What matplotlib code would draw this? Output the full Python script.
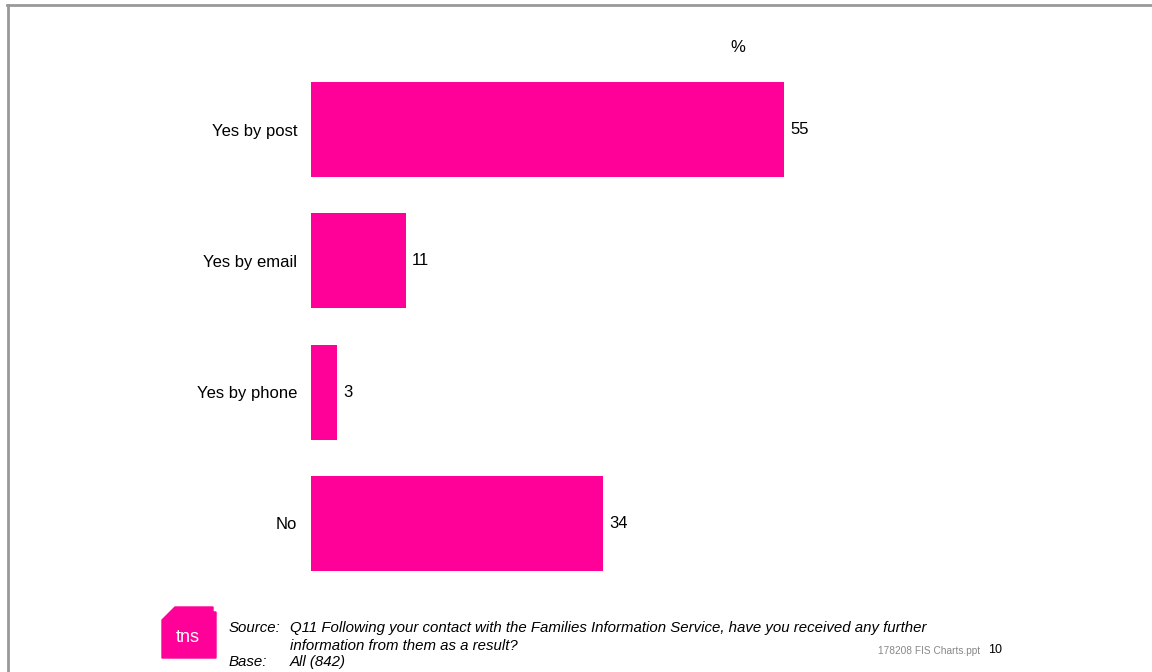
import matplotlib
matplotlib.use('Agg')
import matplotlib.pyplot as plt
from matplotlib.patches import Polygon
from matplotlib.lines import Line2D

plt.rcParams['font.family'] = ['Liberation Sans', 'DejaVu Sans']

# answers and percentages
categories = ['Yes by post', 'Yes by email', 'Yes by phone', 'No']
percent = [55, 11, 3, 34]

question = ['Q11 Following your contact with the Families Information Service, have you received any further',
            'information from them as a result?']
base = 'All (842)'

pink = '#FF0099'
W, H = 1152, 672

fig = plt.figure(figsize=(W / 100, H / 100), dpi=100)


def fx(px):
    return px / W


def fy(py):
    return 1 - py / H


# bar area placed in pixel terms
ax = fig.add_axes([fx(311), fy(589), 688 / W, (589 - 64) / H])
ypos = range(len(categories))
ax.barh(ypos, percent, height=0.725, color=pink)
ax.set_xlim(0, 80)
ax.set_ylim(3.5, -0.5)
ax.set_yticks(list(ypos))
ax.set_yticklabels(categories, fontsize=12)
ax.tick_params(axis='y', length=0, pad=10)
ax.set_xticks([])
for s in ax.spines.values():
    s.set_visible(False)
for y, v in zip(ypos, percent):
    ax.text(v + 0.7, y, str(v), va='center', ha='left', fontsize=12)

fig.text(fx(738), fy(48), '%', ha='center', va='center', fontsize=12)

# slide frame
fig.add_artist(Line2D([fx(7), 1], [fy(4.5), fy(4.5)], color='#999999', lw=2))
fig.add_artist(Line2D([fx(7.5), fx(7.5)], [fy(4.5), 0], color='#999999', lw=2))

# logo
logo = [(162, 620), (175, 607), (213, 607), (213, 612), (216, 612), (216, 658), (162, 658)]
fig.add_artist(Polygon([(fx(x), fy(y)) for x, y in logo], closed=True, color=pink,
                       transform=fig.transFigure))
fig.text(fx(188), fy(637), 'tns', color='white', fontsize=13, ha='center', va='center')

# footer
fs = 10.8
fig.text(fx(229), fy(628), 'Source:', style='italic', fontsize=fs, va='center')
fig.text(fx(290), fy(628), question[0], style='italic', fontsize=fs, va='center')
fig.text(fx(290), fy(646), question[1], style='italic', fontsize=fs, va='center')
fig.text(fx(229), fy(662), 'Base:', style='italic', fontsize=fs, va='center')
fig.text(fx(290), fy(662), base, style='italic', fontsize=fs, va='center')
fig.text(fx(980), fy(651), '178208 FIS Charts.ppt', color='#888888', fontsize=7.3,
         ha='right', va='center')
fig.text(fx(988), fy(650), '10', fontsize=9, ha='left', va='center')

fig.savefig('out.png', dpi=100)
